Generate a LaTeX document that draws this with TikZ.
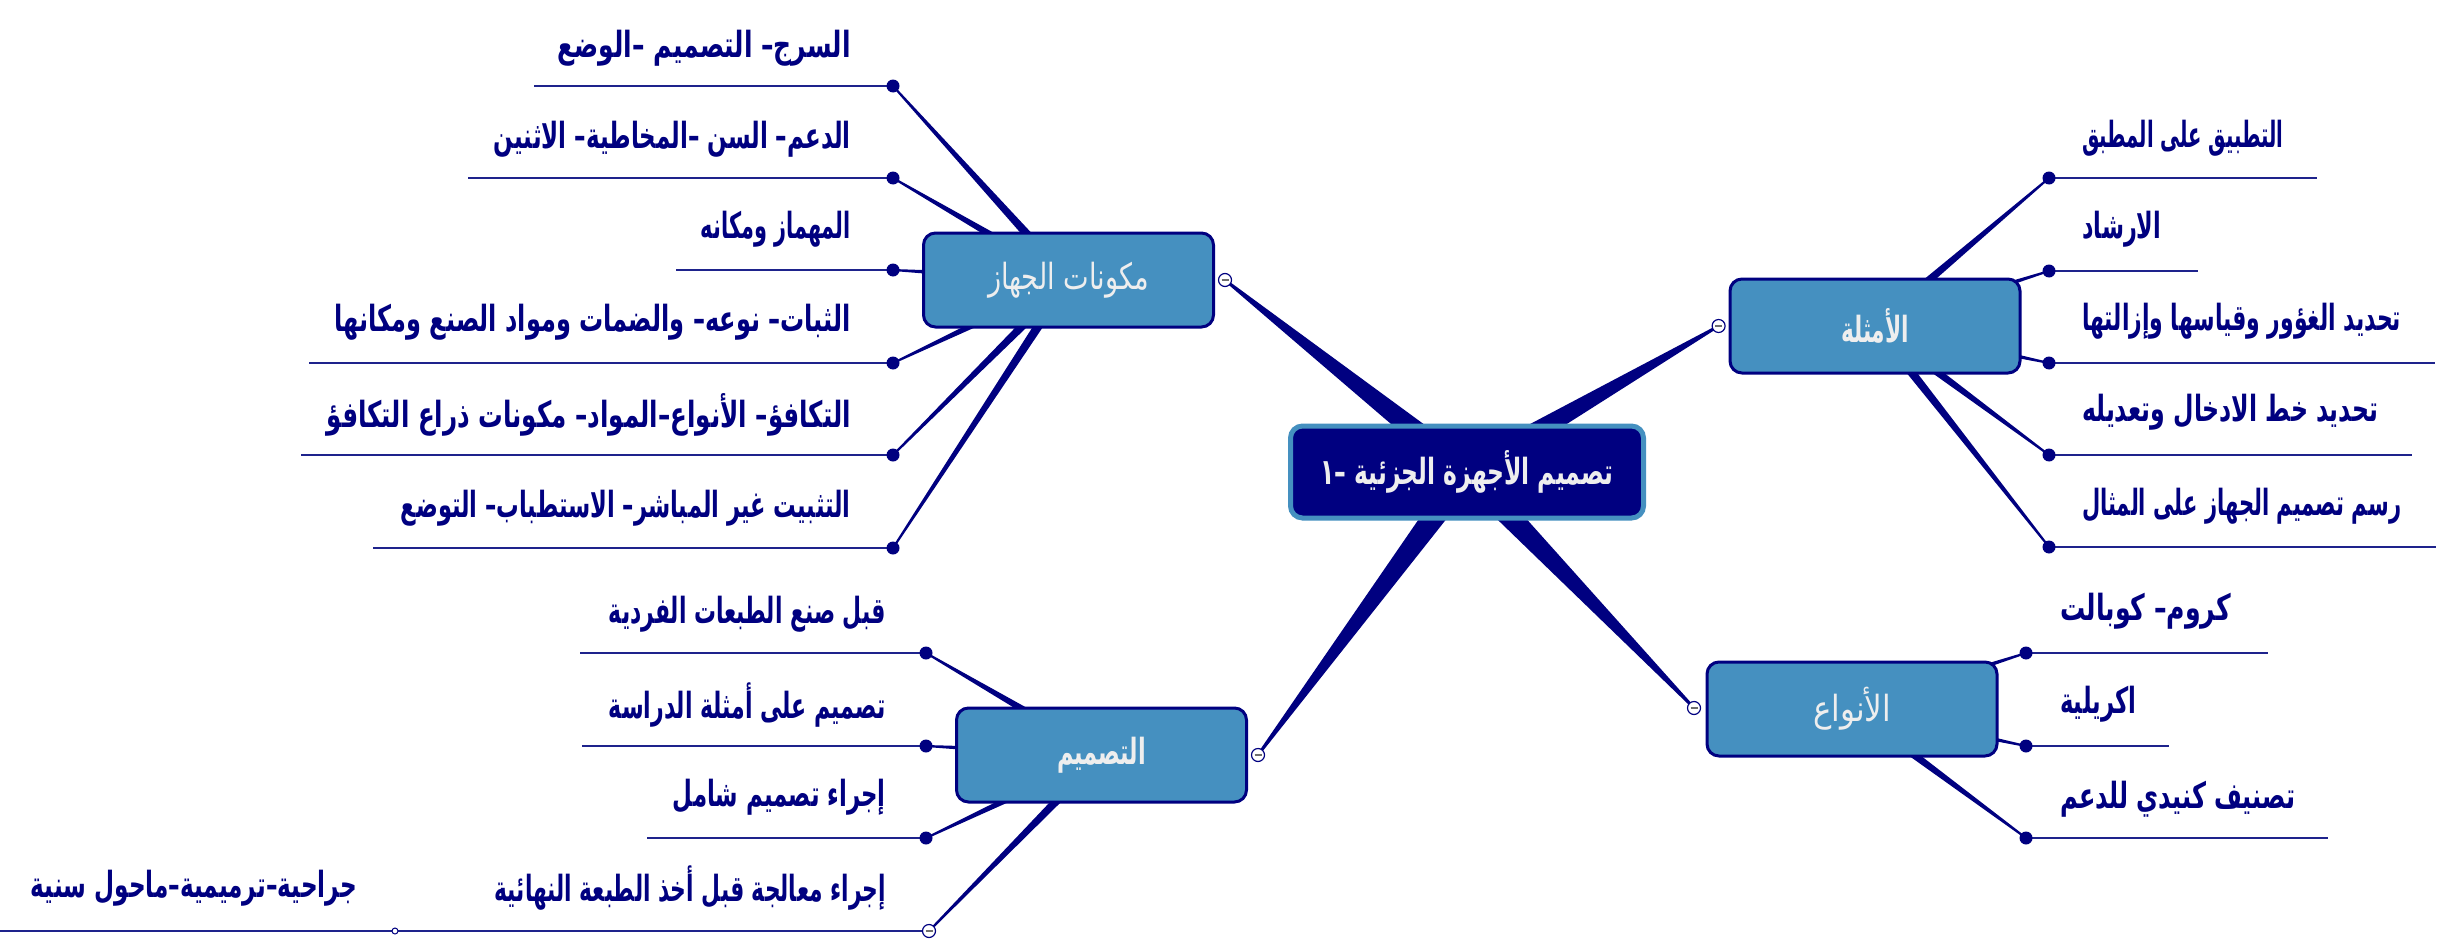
\documentclass[tikz,border=0pt]{standalone}
\usepackage{fontspec}
\usepackage{graphicx}
\usetikzlibrary{calc}
\TeXXeTstate=1
\newfontfamily\arabicfont[Script=Arabic]{DejaVu Sans}
\definecolor{navy}{RGB}{0,0,128}
\definecolor{linenavy}{RGB}{30,35,140}
\definecolor{nodeblue}{RGB}{69,144,192}
\definecolor{lighttxt}{RGB}{238,238,238}
\definecolor{minusgray}{RGB}{110,110,110}
\pgfdeclarelayer{back}
\pgfdeclarelayer{bg}
\pgfsetlayers{back,bg,main}
\newcommand\ar[2]{\resizebox{#1pt}{\height}{#2}}
\newcommand\taper[4]{\fill[navy] ($(#1)!#3!90:(#2)$) -- ($(#2)!#4!-90:(#1)$) -- ($(#2)!#4!90:(#1)$) -- ($(#1)!#3!-90:(#2)$) -- cycle;}
\tikzset{
  centralbox/.style={rectangle, rounded corners=12pt, fill=navy, draw=nodeblue, line width=5pt,
     minimum width=353pt, minimum height=92pt, inner sep=0pt, text=lighttxt,
     font=\arabicfont\bfseries\fontsize{36}{42}\selectfont},
  topicbox/.style={rectangle, rounded corners=12pt, fill=nodeblue, draw=navy, line width=3pt,
     minimum width=290pt, minimum height=94pt, inner sep=0pt, text=lighttxt,
     font=\arabicfont\fontsize{36}{42}\selectfont},
  leafdot/.style={circle, fill=navy, inner sep=0pt, minimum size=13pt},
  collapse/.style={circle, fill=white, draw=navy, line width=1.2pt, inner sep=0pt, minimum size=13pt,
     path picture={\draw[minusgray, line width=1.2pt] ([xshift=-3.5pt]path picture bounding box.center) -- ([xshift=3.5pt]path picture bounding box.center);}},
  tinycircle/.style={circle, fill=white, draw=navy, line width=1pt, inner sep=0pt, minimum size=6pt},
  leaf/.style={inner sep=0pt, text=navy, font=\arabicfont\bfseries\fontsize{36}{42}\selectfont},
  uline/.style={draw=linenavy, line width=1.8pt},
}
\begin{document}
\begin{tikzpicture}[x=1pt,y=-1pt]
\useasboundingbox (0,0) rectangle (2441,942);
\begin{pgfonlayer}{back}
\fill[white] (0,0) rectangle (2441,942);
\end{pgfonlayer}

% central and topic nodes
\node[centralbox] (c) at (1467,472) {\ar{293}{\beginR تصميم الأجهزة الجزئية –١\endR}};
\node[topicbox] (mk) at (1068.5,280) {\ar{161}{\beginR مكونات الجهاز\endR}};
\node[topicbox] (am) at (1875,326) {\ar{68}{\bfseries\beginR الأمثلة\endR}};
\node[topicbox] (an) at (1852,709) {\ar{78}{\beginR الأنواع\endR}};
\node[topicbox] (ts) at (1101.5,755) {\ar{89}{\bfseries\beginR التصميم\endR}};

% collapse circles
\node[collapse] (cmk) at (1225,280) {};
\node[collapse] (cam) at (1718.6,326) {};
\node[collapse] (can) at (1694,708) {};
\node[collapse] (cts) at (1258,755) {};

% leaf dots: mk
\node[leafdot] (m1) at (893,86) {};
\node[leafdot] (m2) at (893,178) {};
\node[leafdot] (m3) at (893,270) {};
\node[leafdot] (m4) at (893,363) {};
\node[leafdot] (m5) at (893,455) {};
\node[leafdot] (m6) at (893,548) {};
% am
\node[leafdot] (a1) at (2049,178) {};
\node[leafdot] (a2) at (2049,271) {};
\node[leafdot] (a3) at (2049,363) {};
\node[leafdot] (a4) at (2049,455) {};
\node[leafdot] (a5) at (2049,547) {};
% an
\node[leafdot] (n1) at (2026,653) {};
\node[leafdot] (n2) at (2026,746) {};
\node[leafdot] (n3) at (2026,838) {};
% ts
\node[leafdot] (t1) at (926,653) {};
\node[leafdot] (t2) at (926,746) {};
\node[leafdot] (t3) at (926,838) {};
\node[collapse] (t4) at (929,931) {};
\node[tinycircle] (s1) at (395,931) {};

% line ends
\coordinate (m1e) at (534,86);
\coordinate (m2e) at (468,178);
\coordinate (m3e) at (676,270);
\coordinate (m4e) at (309,363);
\coordinate (m5e) at (301,455);
\coordinate (m6e) at (373,548);
\coordinate (a1e) at (2317,178);
\coordinate (a2e) at (2198,271);
\coordinate (a3e) at (2435,363);
\coordinate (a4e) at (2412,455);
\coordinate (a5e) at (2436,547);
\coordinate (n1e) at (2268,653);
\coordinate (n2e) at (2169,746);
\coordinate (n3e) at (2328,838);
\coordinate (t1e) at (580,653);
\coordinate (t2e) at (582,746);
\coordinate (t3e) at (647,838);
\coordinate (s1e) at (0,931);

\begin{pgfonlayer}{bg}
% main branches
\taper{c.center}{cmk.center}{13pt}{1.3pt}
\taper{c.center}{cam.center}{13pt}{1.3pt}
\taper{c.center}{can.center}{13pt}{1.3pt}
\taper{c.center}{cts.center}{13pt}{1.3pt}
% sub branches
\foreach \d in {m1,m2,m3,m4,m5,m6}{\taper{mk.center}{\d.center}{5pt}{1pt}}
\foreach \d in {a1,a2,a3,a4,a5}{\taper{am.center}{\d.center}{5pt}{1pt}}
\foreach \d in {n1,n2,n3}{\taper{an.center}{\d.center}{5pt}{1pt}}
\foreach \d in {t1,t2,t3,t4}{\taper{ts.center}{\d.center}{5pt}{1pt}}
% underlines
\foreach \d in {m1,m2,m3,m4,m5,m6,a1,a2,a3,a4,a5,n1,n2,n3,t1,t2,t3}{\draw[uline] (\d.center) -- (\d e);}
\draw[uline] (t4.center) -- (s1.center);
\draw[uline] (s1.center) -- (s1e);
\end{pgfonlayer}

% leaf texts: mk (right aligned)
\node[leaf, anchor=east] (m1t) at (851,48) {\ar{293}{\beginR السرج– التصميم –الوضع\endR}};
\node[leaf, anchor=east] (m2t) at (851,139) {\ar{357}{\beginR الدعم– السن –المخاطية– الاثنين\endR}};
\node[leaf, anchor=east] (m3t) at (851,229) {\ar{150}{\beginR المهماز ومكانه\endR}};
\node[leaf, anchor=east] (m4t) at (851,322) {\ar{516}{\beginR الثبات– نوعه– والضمات ومواد الصنع ومكانها\endR}};
\node[leaf, anchor=east] (m5t) at (851,415) {\ar{524}{\beginR التكافؤ– الأنواع–المواد– مكونات ذراع التكافؤ\endR}};
\node[leaf, anchor=east] (m6t) at (851,508) {\ar{450}{\beginR التثبيت غير المباشر– الاستطباب– التوضع\endR}};
% am
\node[leaf, anchor=west] (a1t) at (2082,138) {\ar{201}{\beginR التطبيق على المطبق\endR}};
\node[leaf, anchor=west] (a2t) at (2082,229) {\ar{79}{\beginR الارشاد\endR}};
\node[leaf, anchor=west] (a3t) at (2082,321) {\ar{319}{\beginR تحديد الغؤور وقياسها وإزالتها\endR}};
\node[leaf, anchor=west] (a4t) at (2082,412) {\ar{296}{\beginR تحديد خط الادخال وتعديله\endR}};
\node[leaf, anchor=west] (a5t) at (2082,506) {\ar{319}{\beginR رسم تصميم الجهاز على المثال\endR}};
% an
\node[leaf, anchor=west] (n1t) at (2060,611) {\ar{171}{\beginR كروم– كوبالت\endR}};
\node[leaf, anchor=west] (n2t) at (2060,704) {\ar{76}{\beginR اكريلية\endR}};
\node[leaf, anchor=west] (n3t) at (2060,799) {\ar{235}{\beginR تصنيف كنيدي للدعم\endR}};
% ts
\node[leaf, anchor=east] (t1t) at (886,614) {\ar{277}{\beginR قبل صنع الطبعات الفردية\endR}};
\node[leaf, anchor=east] (t2t) at (886,705) {\ar{277}{\beginR تصميم على أمثلة الدراسة\endR}};
\node[leaf, anchor=east] (t3t) at (886,797) {\ar{213}{\beginR إجراء تصميم شامل\endR}};
\node[leaf, anchor=east] (t4t) at (886,888) {\ar{391}{\beginR إجراء معالجة قبل أخذ الطبعة النهائية\endR}};
\node[leaf, anchor=east] (s1t) at (357,888) {\ar{326}{\beginR جراحية–ترميمية–ماحول سنية\endR}};
\end{tikzpicture}
\end{document}
